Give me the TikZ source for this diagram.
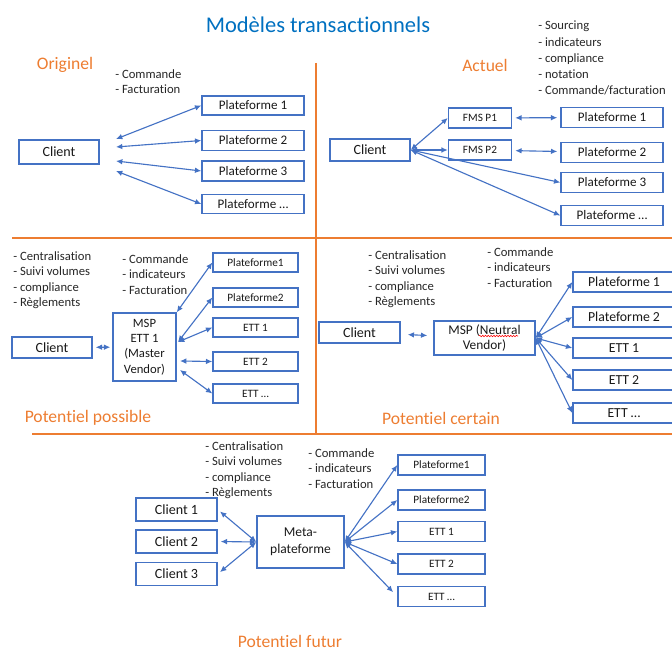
\documentclass[tikz,border=0pt]{standalone}
\usepackage{fontspec}
\setmainfont{Carlito}[Ligatures=NoCommon]
\usepackage{tikz}
\usetikzlibrary{positioning}
\usetikzlibrary{calc}
\usetikzlibrary{arrows.meta}
\usetikzlibrary{decorations.pathmorphing}
\definecolor{boxblue}{RGB}{68,114,196}
\definecolor{orange}{RGB}{237,125,49}
\definecolor{titleblue}{RGB}{0,112,192}
\newlength{\px}
\setlength{\px}{0.025cm}

\begin{document}
\begin{tikzpicture}[x=0.025cm, y=-0.025cm, >={Latex[length=4.5pt,width=4pt]}]
			\tikzstyle{box}=[draw=boxblue, line width=1pt, inner sep=1pt, align=center, text=black!90]
			\tikzstyle{client}=[box, minimum width=80\px, minimum height=22\px, font=\fontsize{10}{12}\selectfont]
			\tikzstyle{plat}=[box, minimum width=102\px, minimum height=20\px, font=\fontsize{9.3}{11}\selectfont]
			\tikzstyle{platsm}=[box, minimum width=85\px, minimum height=19\px, font=\fontsize{8}{10}\selectfont]
			\tikzstyle{list}=[anchor=north west, align=left, inner sep=0pt, text=black!85, font=\fontsize{9}{11}\selectfont]
			\tikzstyle{zone}=[text=orange, font=\fontsize{12.5}{14}\selectfont]
			\tikzstyle{sep}=[draw=orange, line width=1.5pt]
			\tikzstyle{link}=[<->, draw=boxblue, line width=0.8pt]
			
			\useasboundingbox (0,0) rectangle (672,650);
			
			\node at (318, 25) [text=titleblue, font=\fontsize{16}{18}\selectfont] (title) {Modèles transactionnels};
			
			\draw [sep] (12, 238) -- (672, 238);
			\draw [sep] (316, 63) -- (316, 434);
			\draw [sep] (32, 434) -- (672, 434);
			
			% Originel
			\node at (65, 65) [zone] (orig) {Originel};
			\node at (115, 69) [list] (origlist) {- Commande\\- Facturation};
			\draw node at (59, 152) [client, minimum height=24\px] (c1) {Client};
			\draw node at (253, 105.5) [plat, minimum height=19\px] (p11) {Plateforme 1};
			\draw node at (253, 140.5) [plat] (p12) {Plateforme 2};
			\draw node at (253, 171) [plat] (p13) {Plateforme 3};
			\draw node at (253, 204) [plat, minimum height=19\px] (p14) {Plateforme \dots};
			\coordinate (a11) at (116, 139);
			\coordinate (a12) at (116, 147);
			\coordinate (a13) at (116, 161);
			\coordinate (a14) at (116, 171);
			\draw [link] (a11) to (p11.west);
			\draw [link] (a12) to (p12.west);
			\draw [link] (a13) to (p13.west);
			\draw [link] (a14) to (p14.west);
			
			% Actuel
			\node at (485, 65) [zone] (act) {Actuel};
			\node at (538, 21) [list, font=\fontsize{9}{11.4}\selectfont] (actlist) {- Sourcing\\- indicateurs\\- compliance\\- notation\\- Commande/facturation};
			\draw node at (370, 150) [client] (c2) {Client};
			\draw node at (480, 118) [box, minimum width=63\px, minimum height=20\px, font=\fontsize{8}{10}\selectfont] (fms1) {FMS P1};
			\draw node at (480, 150) [box, minimum width=63\px, minimum height=20\px, font=\fontsize{8}{10}\selectfont] (fms2) {FMS P2};
			\draw node at (612, 117.5) [plat] (p21) {Plateforme 1};
			\draw node at (612, 152.5) [plat] (p22) {Plateforme 2};
			\draw node at (612, 182.5) [plat] (p23) {Plateforme 3};
			\draw node at (612, 215.5) [plat] (p24) {Plateforme \dots};
			\draw [link] (c2.east) to (fms1.west);
			\draw [link] (c2.east) to (fms2.west);
			\draw [link] (c2.east) to (p23.west);
			\draw [link] (c2.east) to (p24.west);
			\draw [link, shorten <=3\px, shorten >=3\px] (fms1) to (p21);
			\draw [link, shorten <=3\px, shorten >=3\px] (fms2) to (p22);
			
			% Potentiel possible
			\node at (13, 251) [list] (poslist) {- Centralisation\\- Suivi volumes\\- compliance\\- Règlements};
			\node at (122, 254) [list] (poslist2) {- Commande\\- indicateurs\\- Facturation};
			\draw node at (52, 347.5) [client, minimum height=21\px] (c3) {Client};
			\draw node at (144.5, 347) [box, minimum width=63\px, minimum height=68\px, font=\fontsize{9}{11}\selectfont] (msp3) {MSP\\ETT 1\\(Master\\Vendor)};
			\draw node at (255.5, 262.5) [platsm] (q31) {Plateforme1};
			\draw node at (255.5, 297.5) [platsm] (q32) {Plateforme2};
			\draw node at (255.5, 327.5) [platsm] (q33) {ETT 1};
			\draw node at (255.5, 361.5) [platsm] (q34) {ETT 2};
			\draw node at (255.5, 393.5) [platsm] (q35) {ETT \dots};
			\coordinate (m31) at (178, 342);
			\coordinate (m32) at (180, 361);
			\coordinate (m33) at (180, 370);
			\draw [link, shorten <=3\px, shorten >=2\px] (c3) to (msp3);
			\draw [link] (msp3.north east) to (q31.west);
			\draw [link] (m31) to (q32.west);
			\draw [link] (m31) to (q33.west);
			\draw [link] (m32) to (q34.west);
			\draw [link] (m33) to (q35.west);
			\node at (88, 418) [zone] (pposs) {Potentiel possible};
			
			% Potentiel certain
			\node at (368, 250) [list] (certlist) {- Centralisation\\- Suivi volumes\\- compliance\\- Règlements};
			\node at (487, 247) [list] (certlist2) {- Commande\\- indicateurs\\- Facturation};
			\draw node at (359.5, 332.5) [client, minimum width=81\px, minimum height=21\px] (c4) {Client};
			\draw node at (484.5, 338) [box, minimum width=101\px, minimum height=34\px, font=\fontsize{9.5}{11}\selectfont] (msp4) {MSP (Neutral\\Vendor)};
			\draw [red, line width=0.4pt, decorate, decoration={snake, amplitude=0.5pt, segment length=2pt}] (479, 336) -- (518, 336);
			\draw node at (624, 282) [plat, font=\fontsize{9.8}{11}\selectfont] (r41) {Plateforme 1};
			\draw node at (624, 317) [plat, font=\fontsize{9.8}{11}\selectfont] (r42) {Plateforme 2};
			\draw node at (624, 348) [plat, font=\fontsize{9.8}{11}\selectfont] (r43) {ETT 1};
			\draw node at (624, 380) [plat, font=\fontsize{9.8}{11}\selectfont] (r44) {ETT 2};
			\draw node at (624, 413) [plat, font=\fontsize{9.8}{11}\selectfont] (r45) {ETT \dots};
			\draw [link, shorten <=7\px, shorten >=6\px] (c4) to (msp4);
			\draw [link] (msp4.east) to (r41.west);
			\draw [link] (msp4.east) to (r42.west);
			\draw [link] (msp4.east) to (r43.west);
			\draw [link] (msp4.east) to (r44.west);
			\draw [link] (msp4.east) to (r45.west);
			\node at (441, 418) [zone] (pcert) {Potentiel certain};
			
			% Potentiel futur
			\node at (205, 441) [list] (futlist) {- Centralisation\\- Suivi volumes\\- compliance\\- Règlements};
			\node at (308, 448) [list] (futlist2) {- Commande\\- indicateurs\\- Facturation};
			\draw node at (176.5, 509.5) [client, minimum width=81\px, minimum height=23\px] (k1) {Client 1};
			\draw node at (176.5, 541.5) [client, minimum width=81\px, minimum height=23\px] (k2) {Client 2};
			\draw node at (176.5, 574) [client, minimum width=81\px, minimum height=23\px] (k3) {Client 3};
			\draw node at (300.5, 542) [box, minimum width=87\px, minimum height=52\px, font=\fontsize{9.6}{12}\selectfont] (meta) {Meta-\\plateforme};
			\draw node at (441.5, 465) [platsm, minimum width=87\px, minimum height=20\px] (s1) {Plateforme1};
			\draw node at (441.5, 500) [platsm, minimum width=87\px, minimum height=20\px] (s2) {Plateforme2};
			\draw node at (441.5, 531.5) [platsm, minimum width=87\px, minimum height=20\px] (s3) {ETT 1};
			\draw node at (441.5, 564) [platsm, minimum width=87\px, minimum height=20\px] (s4) {ETT 2};
			\draw node at (441.5, 596.5) [platsm, minimum width=87\px, minimum height=20\px] (s5) {ETT \dots};
			\draw [link, shorten >=3\px] (meta.west) to (k1.east);
			\draw [link, shorten >=3\px] (meta.west) to (k2.east);
			\draw [link, shorten >=3\px] (meta.west) to (k3.east);
			\draw [link] (meta.east) to (s1.west);
			\draw [link] (meta.east) to (s2.west);
			\draw [link] (meta.east) to (s3.west);
			\draw [link] (meta.east) to (s4.west);
			\draw [link, shorten >=6\px] (meta.east) to (s5.west);
			\node at (290, 641) [zone] (pfut) {Potentiel futur};
\end{tikzpicture}
\end{document}
